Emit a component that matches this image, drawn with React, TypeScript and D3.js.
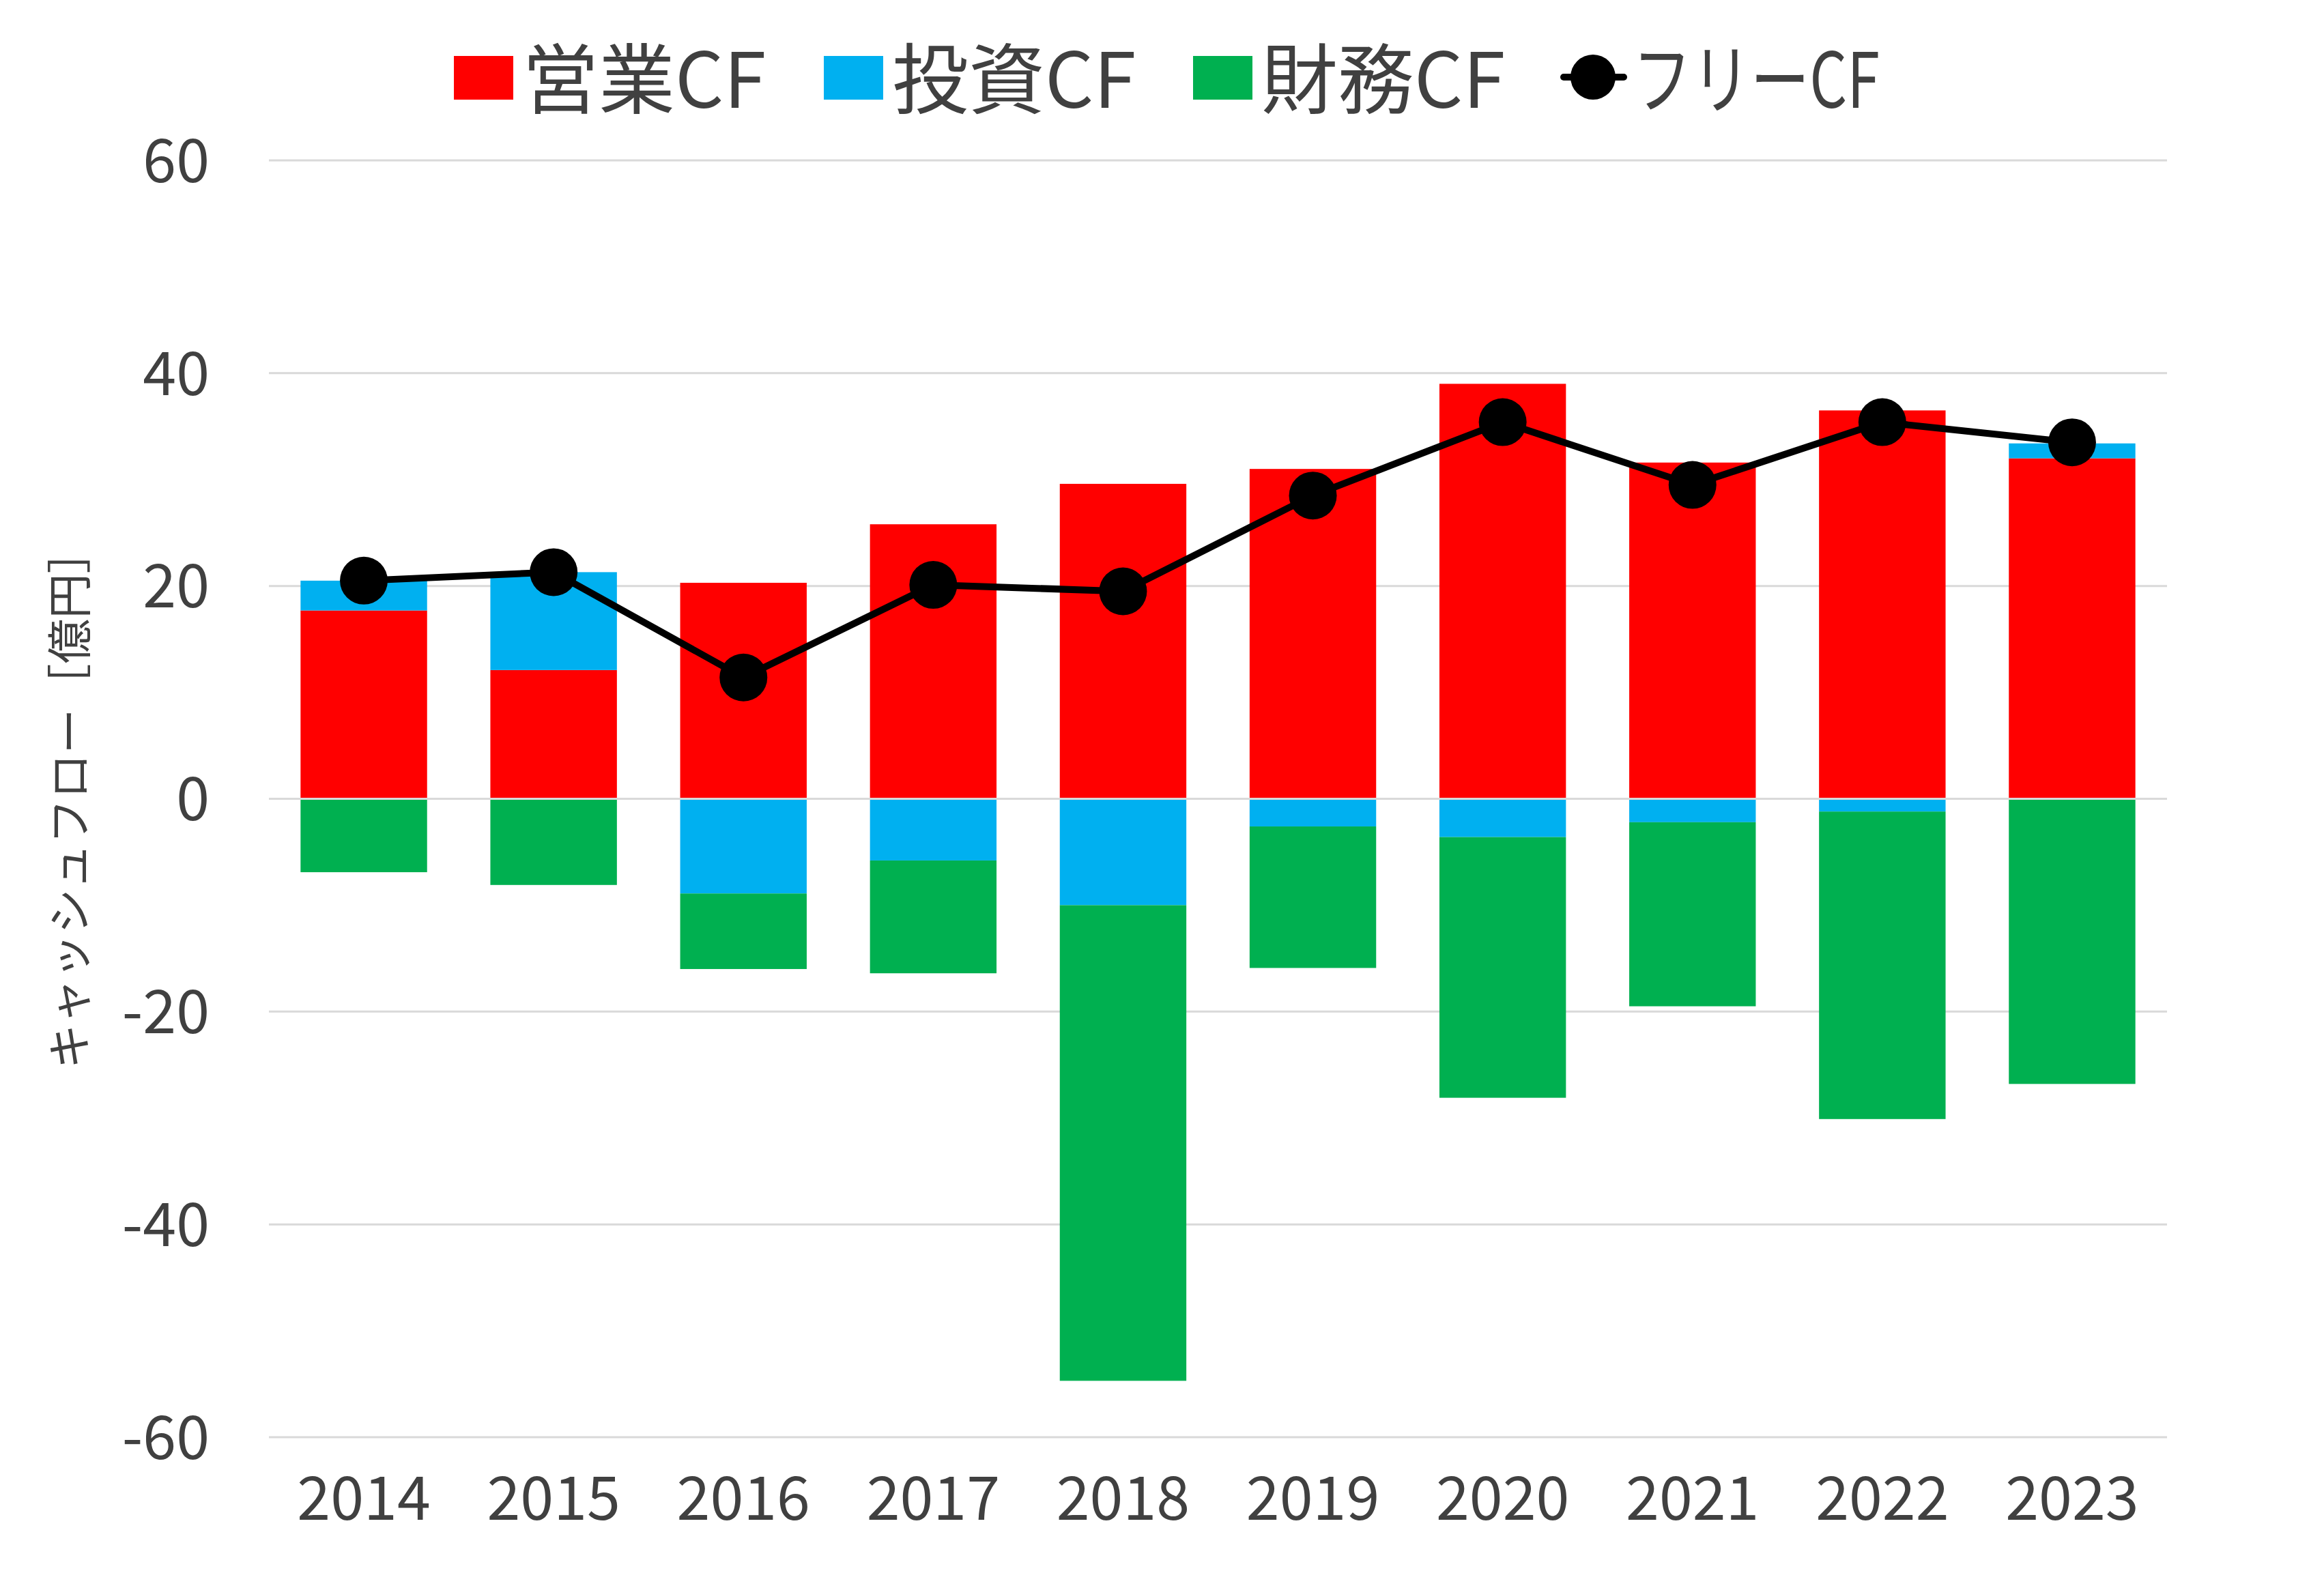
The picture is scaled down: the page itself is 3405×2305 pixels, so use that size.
import React from "react";
import * as d3 from "d3";

const years = ["2014", "2015", "2016", "2017", "2018", "2019", "2020", "2021", "2022", "2023"];
const operatingCF = [17.7, 12.1, 20.3, 25.8, 29.6, 31.0, 39.0, 31.6, 36.5, 32.0];
const investingCF = [2.8, 9.2, -8.9, -5.8, -10.0, -2.6, -3.6, -2.2, -1.2, 1.4];
const financingCF = [-6.9, -8.1, -7.1, -10.6, -44.7, -13.3, -24.5, -17.3, -28.9, -26.8];
const freeCF = [20.5, 21.3, 11.4, 20.1, 19.5, 28.5, 35.4, 29.5, 35.4, 33.5];
const yTicks = [60, 40, 20, 0, -20, -40, -60];
const seriesNames = ["営業CF", "投資CF", "財務CF", "フリーCF"];
const seriesColors = ["#FF0000", "#00B0F0", "#00B050", "#000000"];
const yAxisTitle = "キャッシュフロー［億円］";

const W = 3405;
const H = 2305;
const FONT = "'Noto Sans CJK JP', 'Noto Sans', sans-serif";
const TEXT = "#404040";

export default function App() {
  const x = d3.scaleBand<string>().domain(years).range([394, 3175]).paddingInner(1 / 3).paddingOuter(1 / 6);
  const y = d3.scaleLinear().domain([-60, 60]).range([2106, 235]);

  const rows = years.map((yr, i) => ({ year: yr, op: operatingCF[i], inv: investingCF[i], fin: financingCF[i] }));
  const keys = ["op", "inv", "fin"];
  const stacked = d3.stack<any>().keys(keys).offset(d3.stackOffsetDiverging)(rows);

  const line = d3
    .line<number>()
    .x((_, i) => (x(years[i]) as number) + x.bandwidth() / 2)
    .y((d) => y(d));

  const legendX = [665, 1207, 1748];

  return (
    <svg width={W} height={H} style={{ position: "absolute", left: 0, top: 0, display: "block", background: "#fff" }}>
      {yTicks.map((t) => (
        <line key={"g" + t} x1={394} x2={3175} y1={y(t)} y2={y(t)} stroke="#D9D9D9" strokeWidth={3} />
      ))}
      {yTicks.map((t) => (
        <text key={"t" + t} x={307} y={y(t)} dy="0.36em" textAnchor="end" fontFamily={FONT} fontSize={88} fill={TEXT}>
          {t}
        </text>
      ))}
      {stacked.map((s, si) => (
        <g key={"s" + si} fill={seriesColors[si]}>
          {s.map((d, i) => {
            const y0 = y(d[0]);
            const y1 = y(d[1]);
            return (
              <rect
                key={i}
                x={x(years[i]) as number}
                width={x.bandwidth()}
                y={Math.min(y0, y1)}
                height={Math.abs(y1 - y0)}
              />
            );
          })}
        </g>
      ))}
      <line x1={394} x2={3175} y1={y(0)} y2={y(0)} stroke="#D9D9D9" strokeWidth={3} />
      <path d={line(freeCF) || ""} fill="none" stroke="#000" strokeWidth={10} strokeLinejoin="round" />
      {freeCF.map((v, i) => (
        <circle key={"c" + i} cx={(x(years[i]) as number) + x.bandwidth() / 2} cy={y(v)} r={35} fill="#000" />
      ))}
      {years.map((yr) => (
        <text
          key={"x" + yr}
          x={(x(yr) as number) + x.bandwidth() / 2}
          y={2227}
          textAnchor="middle"
          fontFamily={FONT}
          fontSize={88}
          fill={TEXT}
        >
          {yr}
        </text>
      ))}
      <text
        transform={`translate(126, ${(y(60) + y(-60)) / 2}) rotate(-90)`}
        textAnchor="middle"
        fontFamily={FONT}
        fontSize={66}
        fill={TEXT}
      >
        {yAxisTitle}
      </text>
      {legendX.map((lx, i) => (
        <g key={"l" + i}>
          <rect x={lx} y={82} width={87} height={64} fill={seriesColors[i]} />
          <text x={lx + 100} y={158} fontFamily={FONT} fontSize={112} fill={TEXT}>
            {seriesNames[i]}
          </text>
        </g>
      ))}
      <g>
        <line x1={2291} x2={2379} y1={113} y2={113} stroke="#000" strokeWidth={10} strokeLinecap="round" />
        <circle cx={2334} cy={113} r={33} fill="#000" />
        <text x={2392} y={158} fontFamily={FONT} fontSize={112} fill={TEXT} textLength={362} lengthAdjust="spacingAndGlyphs">
          {seriesNames[3]}
        </text>
      </g>
    </svg>
  );
}
